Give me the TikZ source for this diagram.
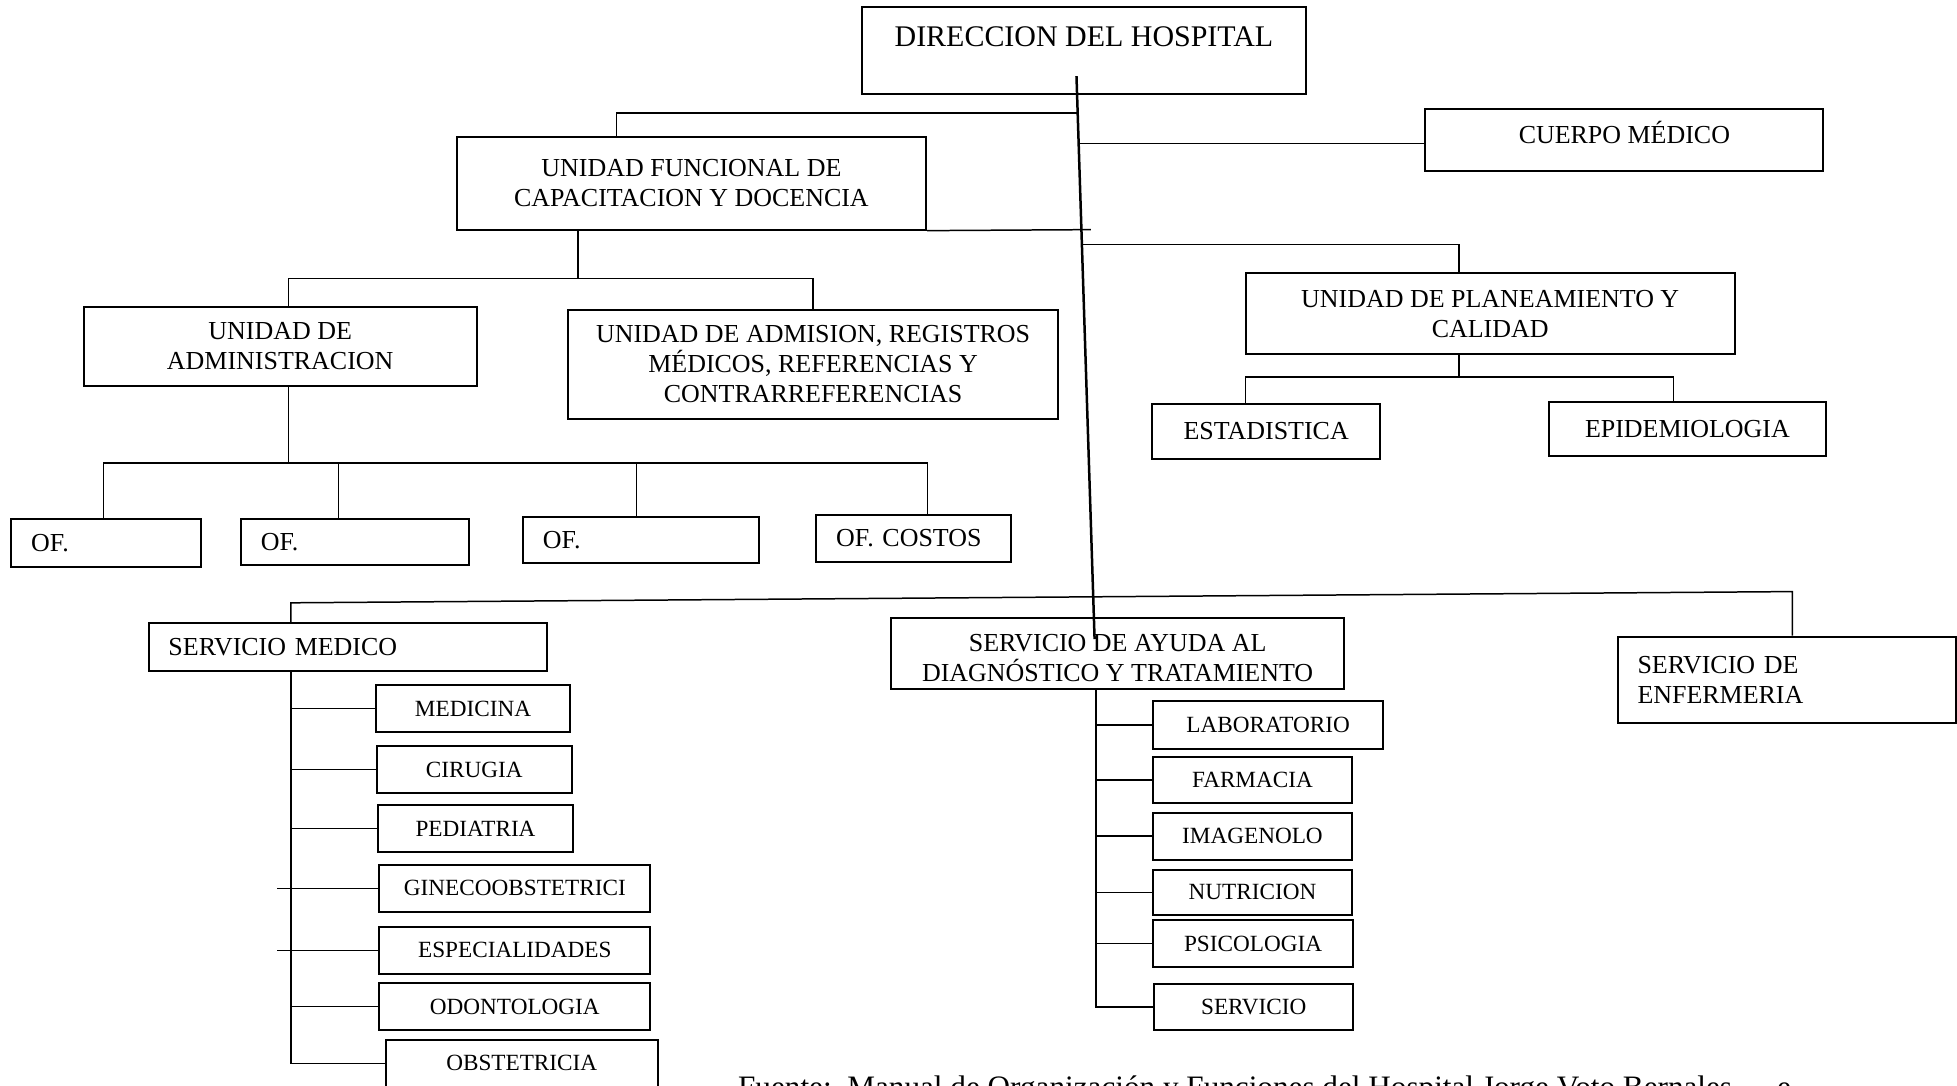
\documentclass[tikz,border=0pt]{standalone}
\usepackage{fontspec}
\setmainfont{Liberation Serif}

\begin{document}
\begin{tikzpicture}[
  x=0.5pt, y=-0.5pt,
  box/.style={
    draw=black,
    line width=0.8pt,
    inner sep=0pt,
    align=center,
    font=\fontsize{10.4}{12}\selectfont
  },
  wh/.style 2 args={minimum width=#1*0.5pt, minimum height=#2*0.5pt},
  sub/.style={box, font=\fontsize{9.3}{11}\selectfont},
  lbox/.style 2 args={
    box,
    align=left,
    text width=#1*0.5pt-16pt,
    inner xsep=8pt,
    minimum height=#2*0.5pt
  },
  link/.style={line width=0.6pt, draw=black},
  trunk/.style={line width=1pt, draw=black}
]

\useasboundingbox (0,0) rectangle (1568,870);
\clip (0,0) rectangle (1568,870);

\node[box, wh={355}{69}, font=\fontsize{12}{14}\selectfont,
  text height=9pt, text depth=12pt] (dir) at (868.5,40.5) {DIRECCION DEL HOSPITAL};

\node[box, wh={376}{74}] (uf) at (554,147) {UNIDAD FUNCIONAL DE\\CAPACITACION Y DOCENCIA};
\node[box, wh={319}{50}, text height=8pt, text depth=5.2pt] (cm) at (1301.5,112) {CUERPO MÉDICO};
\node[box, wh={392}{65}] (plan) at (1194,251.5) {UNIDAD DE PLANEAMIENTO Y\\CALIDAD};
\node[box, wh={183}{43.5}] (est) at (1014.5,345.75) {ESTADISTICA};
\node[box, wh={222}{43}] (epi) at (1352,343.5) {EPIDEMIOLOGIA};

\node[box, wh={315}{63}] (adm) at (224.5,277.5) {UNIDAD DE\\ADMINISTRACION};
\node[box, wh={393}{88}] (ads) at (651.5,292) {UNIDAD DE ADMISION, REGISTROS\\MÉDICOS, REFERENCIAS Y\\CONTRARREFERENCIAS};

\node[lbox={152}{38}] (ofa) at (85,435) {OF.};
\node[lbox={182.5}{37}] (ofb) at (284.25,434) {OF.};
\node[lbox={189}{37}] (ofc) at (513.5,432.5) {OF.};
\node[lbox={156}{37}] (ofd) at (732,431.5) {OF. COSTOS};

\node[lbox={319}{39}] (smed) at (278.5,518.5) {SERVICIO MEDICO};
\node[box, wh={363}{57}, text height=24.5pt, text depth=2.1pt] (ayu) at (895.5,523.5) {SERVICIO DE AYUDA AL\\DIAGNÓSTICO Y TRATAMIENTO};
\node[lbox={271}{69}] (enf) at (1431.5,544.5) {SERVICIO DE\\ENFERMERIA};

\node[sub, wh={156}{37.5}] (med) at (379,567.75) {MEDICINA};
\node[sub, wh={156}{37}] (cir) at (380,616.5) {CIRUGIA};
\node[sub, wh={156}{38}] (ped) at (381,664) {PEDIATRIA};
\node[sub, wh={217}{37.5}] (gin) at (412.5,711.75) {GINECOOBSTETRICI};
\node[sub, wh={217}{38}] (esp) at (412.5,761.5) {ESPECIALIDADES};
\node[sub, wh={217}{37}] (odo) at (412.5,806.5) {ODONTOLOGIA};
\node[sub, wh={218}{38}] (obs) at (418,852) {OBSTETRICIA};

\node[sub, wh={184}{38}] (lab) at (1016,581) {LABORATORIO};
\node[sub, wh={159}{37}] (far) at (1003.5,625) {FARMACIA};
\node[sub, wh={159}{37.5}] (ima) at (1003.5,670) {IMAGENOLO};
\node[sub, wh={159}{36.5}] (nut) at (1003.5,715) {NUTRICION};
\node[sub, wh={160}{37.5}] (psi) at (1004,756) {PSICOLOGIA};
\node[sub, wh={159}{37}] (ser) at (1004.5,807) {SERVICIO};

\node[font=\fontsize{12.5}{15}\selectfont, anchor=base west, inner sep=0pt] (fuente)
  at (591,879.5) {Fuente:\ \ Manual de Organización y Funciones del Hospital Jorge Voto Bernales\hspace{18pt}e};

\coordinate (t1) at (862.5,61);
\coordinate (t2) at (877,512);
\coordinate (j1) at (863.4,90.5);
\coordinate (j2) at (864.2,115);
\coordinate (j3) at (874,184);
\coordinate (j4) at (866.8,196);
\coordinate (pb) at (1169,302);
\coordinate (ub) at (463,223);
\coordinate (ob) at (231,371);
\coordinate (busL) at (233,483);
\coordinate (busR) at (1436,474);
\coordinate (mv) at (233,540);
\coordinate (mvx) at (222,540);
\coordinate (dv) at (878,560);

\draw[trunk] (t1) -- (t2);
\draw[link] (j1) -| ([xshift=-30pt]uf.north);
\draw[link] (j2) -- (j2 -| cm.west);
\draw[link] (uf.south east) -- (j3);
\draw[link] (j4) -| ([xshift=-12.5pt]plan.north);

\draw[link] ([xshift=-12.5pt]plan.south) -- (pb);
\draw[link] ([xshift=-8.25pt]est.north) |- (pb) -| ([xshift=-5.5pt]epi.north);

\draw[link] ([xshift=-45.5pt]uf.south) -- (ub);
\draw[link] ([xshift=3.25pt]adm.north) |- (ub) -| (ads.north);

\draw[link] ([xshift=3.25pt]adm.south) -- (ob);
\draw[link] ([xshift=-1pt]ofa.north) |- (ob) -| ([xshift=5.5pt]ofd.north);
\draw[link] ([xshift=-6.6pt]ofb.north) -- ([xshift=-6.6pt]ofb.north |- ob);
\draw[link] ([xshift=-1.75pt]ofc.north) -- ([xshift=-1.75pt]ofc.north |- ob);

\draw[link] ([xshift=-22.75pt]smed.north) -- (busL) -- (busR) -- ([xshift=2.25pt]enf.north);

\draw[link] ([xshift=-22.75pt]smed.south) |- (obs.west);
\foreach \n in {med,cir,ped,odo}
  \draw[link] (\n.west) -- (\n.west -| mv);
\foreach \n in {gin,esp}
  \draw[link] (\n.west) -- (\n.west -| mvx);

\draw[link] ([xshift=-8.75pt]ayu.south) |- (ser.west);
\foreach \n in {lab,far,ima,nut,psi}
  \draw[link] (\n.west) -- (\n.west -| dv);

\end{tikzpicture}
\end{document}
